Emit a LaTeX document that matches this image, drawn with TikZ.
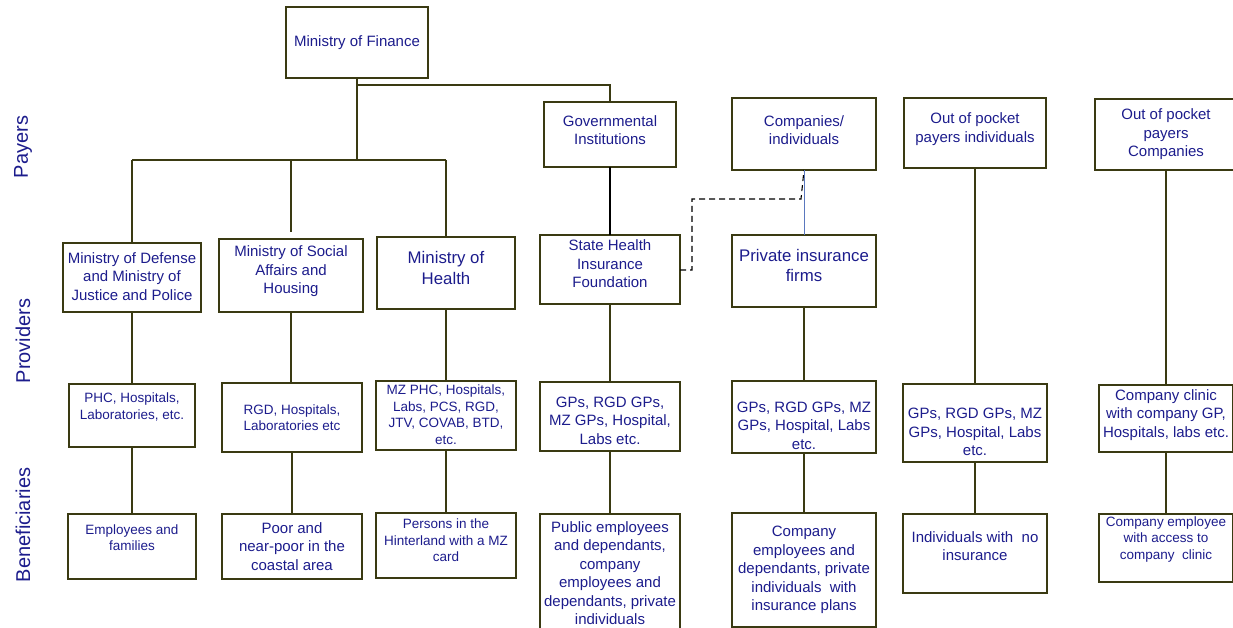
\documentclass[tikz,border=0pt]{standalone}
\usepackage{fontspec}
\setmainfont{Liberation Sans}
\definecolor{boxc}{RGB}{58,58,18}
\definecolor{txtc}{RGB}{28,28,140}
\definecolor{linkblue}{RGB}{90,120,190}
\newcommand\fA{\fontsize{15}{18.5}\selectfont}
\newcommand\fS{\fontsize{13.5}{16.6}\selectfont}
\newcommand\fL{\fontsize{16.8}{20.5}\selectfont}
\newcommand\fSide{\fontsize{20}{24}\selectfont}
\tikzset{
  box/.style={draw=boxc, line width=1.8pt, inner sep=0pt, outer sep=0pt, rectangle},
  txt/.style={text=txtc, align=center, inner sep=0pt},
  conn/.style={draw=boxc, line width=1.7pt},
  blackconn/.style={draw=black, line width=1.4pt},
  dashline/.style={draw=black, line width=1.1pt, dash pattern=on 6pt off 4pt},
  blueconn/.style={draw=linkblue, line width=1pt},
  side/.style={text=txtc, rotate=90, inner sep=0pt, font=\fSide}
}
% #1 name, #2 x1, #3 y1, #4 x2, #5 y2, #6 text centre y, #7 font, #8 text
\newcommand\mybox[8]{%
  \node[box, minimum width={(#4-#2)*1pt}, minimum height={(#5-#3)*1pt}] (#1) at ({(#2+#4)/2},{(#3+#5)/2}) {};
  \node[txt, font=#7] (#1-t) at ({(#2+#4)/2},#6) {#8};
}
\begin{document}
\begin{tikzpicture}[x=1pt,y=-1pt]
\useasboundingbox (0,0) rectangle (1233,628);
\clip (0,0) rectangle (1233,628);

% side labels
\node[side] (lpay) at (23,147) {Payers};
\node[side] (lprov) at (23,341) {Providers};
\node[side] (lben) at (23,525) {Beneficiaries};

% payers
\mybox{mof}{286}{7}{428}{78}{43}{\fA}{Ministry of Finance}
\mybox{def}{63}{243}{201}{312}{276.5}{\fA}{Ministry of Defense\\and Ministry of\\Justice and Police}
\mybox{soc}{219}{239}{363}{312}{271.5}{\fA}{Ministry of Social\\Affairs and\\Housing}
\mybox{moh}{377}{237}{515}{309}{268}{\fL}{Ministry of\\Health}
\mybox{gov}{544}{102}{676}{167}{130}{\fA}{Governmental\\Institutions}
\mybox{shif}{540}{235}{680}{304}{264}{\fA}{State Health\\Insurance\\Foundation}
\mybox{comp}{732}{98}{876}{170}{130}{\fA}{Companies/\\individuals}
\mybox{priv}{732}{235}{876}{307}{265.5}{\fL}{Private insurance\\firms}
\mybox{oopi}{904}{98}{1046}{168}{129}{\fA}{Out of pocket\\payers individuals}
\mybox{oopc}{1095}{99}{1237}{170}{134.5}{\fA}{Out of pocket\\payers\\Companies}

% providers
\mybox{phc}{69}{384}{195}{447}{407}{\fS}{PHC, Hospitals,\\Laboratories, etc.}
\mybox{rgd}{222}{383}{362}{452}{417.5}{\fS}{RGD, Hospitals,\\Laboratories etc}
\mybox{mzp}{376}{381}{516}{450}{414.5}{\fS}{MZ PHC, Hospitals,\\Labs, PCS, RGD,\\JTV, COVAB, BTD,\\etc.}
\mybox{gps}{540}{382}{680}{451}{420.5}{\fA}{GPs, RGD GPs,\\MZ GPs, Hospital,\\Labs etc.}
\mybox{gpp}{732}{381}{876}{453}{425.5}{\fA}{GPs, RGD GPs, MZ\\GPs, Hospital, Labs\\etc.}
\mybox{gpo}{903}{384}{1047}{462}{432}{\fA}{GPs, RGD GPs, MZ\\GPs, Hospital, Labs\\etc.}
\mybox{clin}{1099}{385}{1233}{452}{415}{\fA}{Company clinic\\with company GP,\\Hospitals, labs etc.}

% beneficiaries
\mybox{emp}{68}{514}{196}{579}{537.5}{\fS}{Employees and\\families}
\mybox{poor}{222}{514}{362}{579}{546.5}{\fA}{Poor and\\near-poor in the\\coastal area}
\mybox{pers}{376}{513}{516}{578}{540.5}{\fS}{Persons in the\\Hinterland with a MZ\\card}
\mybox{pub}{540}{514}{680}{640}{573}{\fA}{Public employees\\and dependants,\\company\\employees and\\dependants, private\\individuals}
\mybox{cemp}{732}{513}{876}{627}{570}{\fA}{Company\\employees and\\dependants, private\\individuals\ \ with\\insurance plans}
\mybox{noins}{903}{514}{1047}{593}{546}{\fA}{Individuals with\ \ no\\insurance}
\mybox{cacc}{1099}{514}{1233}{582}{539.5}{\fS}{Company employee\\with access to\\company\ \ clinic}

% junctions
\coordinate (j1) at (357,160);
\coordinate (j2) at (357,85);
\coordinate (d1) at (692,270);
\coordinate (d2) at (692,199);
\coordinate (d3) at (801,199);

% Ministry of Finance tree
\draw[conn] (mof.south) -- (j1);
\draw[conn] (j1 -| def.north) -- (j1 -| moh.north);
\draw[conn] (j1 -| def.north) -- (def.north);
\draw[conn] (j1 -| soc.north) -- ([yshift=7pt]soc.north);
\draw[conn] (j1 -| moh.north) -- (moh.north);
\draw[conn] (j2) -| (gov.north);
\draw[blackconn] (gov.south) -- (gov.south |- shif.north);

% dashed and blue links
\draw[dashline] (shif.east |- d1) -- (d1) -- (d2) -- (d3) -- (comp.south);
\draw[blueconn] (comp.south) -- (priv.north);

% payers to providers
\draw[conn] (def.south) -- (def.south |- phc.north);
\draw[conn] (soc.south) -- (soc.south |- rgd.north);
\draw[conn] (moh.south) -- (moh.south |- mzp.north);
\draw[conn] (shif.south) -- (shif.south |- gps.north);
\draw[conn] (priv.south) -- (priv.south |- gpp.north);
\draw[conn] (oopi.south) -- (oopi.south |- gpo.north);
\draw[conn] (oopc.south) -- (oopc.south |- clin.north);

% providers to beneficiaries
\draw[conn] (phc.south) -- (phc.south |- emp.north);
\draw[conn] (rgd.south) -- (rgd.south |- poor.north);
\draw[conn] (mzp.south) -- (mzp.south |- pers.north);
\draw[conn] (gps.south) -- (gps.south |- pub.north);
\draw[conn] (gpp.south) -- (gpp.south |- cemp.north);
\draw[conn] (gpo.south) -- (gpo.south |- noins.north);
\draw[conn] (clin.south) -- (clin.south |- cacc.north);
\end{tikzpicture}
\end{document}
